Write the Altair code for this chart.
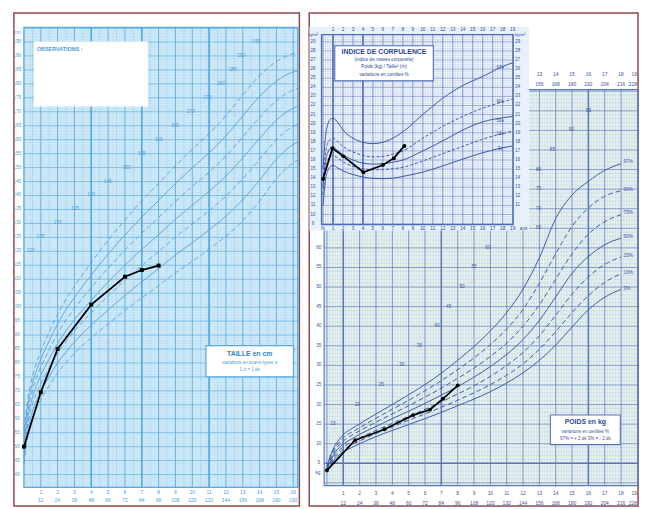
import altair as alt
import numpy as np
import pandas as pd

FONT = "Liberation Sans"

# ======================= DATA =======================
# ---- Height chart (TAILLE en cm) ----
H_AGES = [0, 0.25, 0.5, 0.75, 1, 1.5, 2, 2.5, 3, 4, 5, 6, 7, 8, 9, 10, 11, 12, 13, 14, 15, 16, 16.3]
H_M3 = [44, 54.1, 60, 63.9, 66.8, 71.9, 76.5, 80.1, 83.5, 89, 94, 98.8, 103.3, 107.7, 112.3, 116.4, 120.8, 125.4, 131, 138, 146, 151.8, 152.8]
H_M2 = [46, 56.4, 62.5, 66.6, 69.7, 75.1, 80, 83.9, 87.5, 93.5, 99, 104.2, 109.1, 113.8, 118.7, 123.1, 127.7, 132.6, 138.5, 145.5, 153, 158.3, 159.2]
H_M1 = [48, 58.7, 65, 69.3, 72.6, 78.3, 83.5, 87.7, 91.5, 98, 104, 109.6, 114.9, 119.9, 125.1, 129.8, 134.6, 139.8, 146, 153, 160, 164.8, 165.6]
H_M0 = [50, 61, 67.5, 72, 75.5, 81.5, 87, 91.5, 95.5, 102.5, 109, 115, 120.7, 126, 131.5, 136.5, 141.5, 147, 153.5, 160.5, 167, 171.3, 172]
H_P1 = [52, 63.3, 70, 74.7, 78.4, 84.7, 90.5, 95.3, 99.5, 107, 114, 120.4, 126.5, 132.1, 137.9, 143.2, 148.4, 154.2, 161, 168, 174, 177.8, 178.4]
H_P2 = [54, 65.6, 72.5, 77.4, 81.3, 87.9, 94, 99.1, 103.5, 111.5, 119, 125.8, 132.3, 138.2, 144.3, 149.9, 155.3, 161.4, 168.5, 175.5, 181, 184.3, 184.8]
H_P3 = [56, 67.9, 75, 80.1, 84.2, 91.1, 97.5, 102.9, 107.5, 116, 124, 131.2, 138.1, 144.3, 150.7, 156.6, 162.2, 168.6, 176, 183, 188, 190.8, 191.2]
CHILD_H_AGE = [0, 1, 2, 4, 6, 7, 8]
CHILD_H_CM = [50, 69.5, 85, 100.9, 110.9, 113.3, 114.9]
H_YLAB = list(range(40, 200, 5))
H_XYEARS = list(range(1, 17))
H_XMONTHS = [12 * k for k in H_XYEARS]
H_DIAG_AGE = [0.4, 1.0, 2.0, 3.05, 4.0, 4.98, 6.1, 7.0, 8.0, 8.95, 9.9, 10.9, 11.7, 12.4, 12.9, 13.8]
H_DIAG_VAL = [120, 125, 130, 135, 140, 145, 150, 155, 160, 165, 170, 175, 180, 185, 190, 195]

# ---- Weight chart (POIDS en kg) ----
W_AGES = [0, 0.25, 0.5, 0.75, 1, 1.5, 2, 3, 4, 5, 6, 7, 8, 9, 10, 11, 12, 13, 14, 15, 16, 17, 18]
W_P97 = [4.3, 7.4, 9.6, 11.1, 12.3, 13.8, 15.1, 17.6, 20.0, 22.5, 25.1, 28.0, 31.3, 34.8, 38.8, 43.5, 49.5, 57.5, 67.5, 73.5, 77.0, 79.8, 81.5]
W_P90 = [4.0, 6.9, 9.0, 10.4, 11.5, 12.9, 14.1, 16.5, 18.8, 21.1, 23.5, 26.1, 28.9, 31.9, 35.3, 39.3, 44.3, 51.0, 58.5, 65.5, 70.2, 73.2, 74.6]
W_P75 = [3.7, 6.4, 8.4, 9.7, 10.7, 12.1, 13.3, 15.5, 17.6, 19.7, 21.9, 24.2, 26.7, 29.3, 32.3, 35.7, 40.0, 45.5, 52.0, 58.5, 63.5, 66.7, 68.5]
W_P50 = [3.4, 5.9, 7.8, 9.0, 9.9, 11.2, 12.4, 14.4, 16.4, 18.3, 20.3, 22.4, 24.6, 27.0, 29.7, 32.8, 36.6, 41.5, 47.5, 53.5, 57.8, 60.8, 62.5]
W_P25 = [3.1, 5.4, 7.2, 8.3, 9.2, 10.4, 11.5, 13.4, 15.2, 17.0, 18.8, 20.7, 22.7, 24.8, 27.2, 30.0, 33.3, 37.6, 42.8, 48.2, 52.6, 55.8, 57.7]
W_P10 = [2.9, 5.0, 6.7, 7.7, 8.5, 9.7, 10.7, 12.6, 14.3, 16.0, 17.6, 19.3, 21.1, 23.0, 25.1, 27.5, 30.4, 34.1, 38.6, 43.5, 47.8, 51.2, 53.4]
W_P03 = [2.6, 4.6, 6.2, 7.2, 7.9, 9.0, 10.0, 11.8, 13.4, 14.9, 16.4, 18.0, 19.7, 21.4, 23.3, 25.5, 28.1, 31.3, 35.2, 39.8, 44.2, 47.4, 49.4]
W_PLAB = ["97%", "90%", "75%", "50%", "25%", "10%", "3%"]
W_PLAB_VAL = [81.8, 74.7, 68.8, 62.8, 57.9, 53.7, 49.6]
CHILD_W_AGE = [0, 1.72, 3.53, 5.28, 6.3, 7.11, 8.01]
CHILD_W_KG = [3.2, 10.9, 13.7, 17.3, 18.7, 21.5, 24.9]
W_YLAB = list(range(5, 65, 5))
W_XYEARS = list(range(1, 19))
W_XMONTHS = [12 * k for k in W_XYEARS]
W_TOPYEARS = list(range(13, 19))
W_TOPMONTHS = [12 * k for k in W_TOPYEARS]
W_EDGE_YEAR = ["19"]
W_EDGE_MONTH = ["228"]
W_DIAG_AGE = [0.37, 1.86, 3.32, 4.58, 5.66, 6.73, 7.45, 8.27, 9.0, 9.85, 12.95, 12.95, 12.95, 12.95, 13.8, 14.95, 16.0]
W_DIAG_VAL = [15, 20, 25, 30, 35, 40, 45, 50, 55, 60, 65, 70, 75, 80, 85, 90, 95]

# ---- BMI inset (INDICE DE CORPULENCE) ----
B_AGES = [0, 0.25, 0.5, 0.75, 1, 1.5, 2, 3, 4, 5, 6, 7, 8, 10, 12, 14, 16, 18, 19]
B_P97 = [15.0, 18.6, 20.0, 20.5, 20.6, 20.1, 19.3, 18.4, 17.95, 17.8, 17.95, 18.4, 19.1, 21.0, 22.8, 24.2, 25.2, 26.3, 26.7]
B_P90 = [13.8, 16.8, 17.9, 18.3, 18.4, 18.0, 17.5, 16.9, 16.5, 16.35, 16.4, 16.65, 17.0, 18.4, 19.7, 20.8, 21.7, 22.4, 22.7]
B_P50 = [13.0, 15.8, 16.9, 17.3, 17.4, 17.0, 16.6, 16.0, 15.65, 15.55, 15.6, 15.75, 16.0, 17.0, 18.1, 19.3, 20.2, 20.65, 20.8]
B_P10 = [12.2, 14.9, 16.0, 16.4, 16.5, 16.2, 15.8, 15.3, 15.05, 14.93, 14.95, 15.03, 15.2, 15.9, 16.7, 17.5, 18.3, 18.9, 19.2]
B_P03 = [11.0, 13.8, 14.9, 15.3, 15.4, 15.1, 14.8, 14.4, 14.13, 13.97, 13.95, 14.0, 14.2, 14.67, 15.35, 16.1, 16.8, 17.35, 17.55]
B_PLAB = ["97e", "90e", "50e", "10e", "3e"]
B_PLAB_VAL = [26.1, 22.36, 20.34, 18.86, 17.16]
CHILD_B_AGE = [0, 0.95, 2.05, 4.05, 6.0, 7.1, 8.15]
CHILD_B_VAL = [13.9, 17.3, 16.4, 14.65, 15.45, 16.2, 17.55]
B_YLAB = list(range(9, 30))
B_YLAB_R = list(range(11, 30))
B_XYEARS = list(range(1, 20))

# ======================= STYLE =======================
FRAME = "#8c4a4a"
L_BG, L_MIN, L_MID, L_MAJ, L_CUR, L_TXT = "#d8eefa", "#b2dcf3", "#8fcaee", "#55a9df", "#5a9ed8", "#4a9dd6"
W_BG, W_MIN, W_MAJ, W_CUR, W_TXT = "#e8f3ec", "#b6cbe8", "#5a76bd", "#3d5aa8", "#3b549e"
B_BG, B_MIN, B_MAJ, B_CUR, B_TXT = "#e6f1fb", "#bccbea", "#4f6ab4", "#3a56a6", "#2f4b9c"


def sc(lo, hi):
    return alt.Scale(domain=[lo, hi], nice=False, zero=False)


def vlines(xs, y0, y1, sx, sy, color, w):
    df = pd.DataFrame({"x": [float(v) for v in xs]})
    df["y"] = y0
    df["y2"] = y1
    return alt.Chart(df).mark_rule(color=color, strokeWidth=w).encode(
        x=alt.X("x:Q", scale=sx, axis=None),
        y=alt.Y("y:Q", scale=sy, axis=None), y2="y2:Q")


def hlines(ys, x0, x1, sx, sy, color, w):
    df = pd.DataFrame({"y": [float(v) for v in ys]})
    df["x"] = x0
    df["x2"] = x1
    return alt.Chart(df).mark_rule(color=color, strokeWidth=w).encode(
        x=alt.X("x:Q", scale=sx, axis=None), x2="x2:Q",
        y=alt.Y("y:Q", scale=sy, axis=None))


def box(x0, x1, y0, y1, sx, sy, fill, stroke=None, sw=1.0):
    df = pd.DataFrame({"x": [x0], "x2": [x1], "y": [y0], "y2": [y1]})
    kw = dict(fill=fill)
    if stroke:
        kw.update(stroke=stroke, strokeWidth=sw)
    else:
        kw.update(strokeWidth=0)
    return alt.Chart(df).mark_rect(**kw).encode(
        x=alt.X("x:Q", scale=sx, axis=None), x2="x2:Q",
        y=alt.Y("y:Q", scale=sy, axis=None), y2="y2:Q")


def texts(xs, ys, labels, sx, sy, color, size=5, align="center", weight="normal"):
    n = len(labels)
    xs = xs if isinstance(xs, list) else [xs] * n
    ys = ys if isinstance(ys, list) else [ys] * n
    df = pd.DataFrame({"x": xs, "y": ys, "t": [str(l) for l in labels]})
    return alt.Chart(df).mark_text(font=FONT, fontSize=size, color=color, align=align,
                                   baseline="middle", fontWeight=weight).encode(
        x=alt.X("x:Q", scale=sx, axis=None),
        y=alt.Y("y:Q", scale=sy, axis=None), text="t:N")


def curves(ages, series, sx, sy, color, w, dash=None):
    rows = []
    for name, vals in series.items():
        for a, v in zip(ages, vals):
            rows.append({"age": a, "v": v, "c": name})
    kw = dict(color=color, strokeWidth=w, interpolate="monotone")
    if dash:
        kw["strokeDash"] = dash
    return alt.Chart(pd.DataFrame(rows)).mark_line(**kw).encode(
        x=alt.X("age:Q", scale=sx, axis=None),
        y=alt.Y("v:Q", scale=sy, axis=None), detail="c:N")


def child(ages, vals, sx, sy, shape):
    df = pd.DataFrame({"age": ages, "v": vals})
    base = alt.Chart(df).encode(x=alt.X("age:Q", scale=sx, axis=None),
                                y=alt.Y("v:Q", scale=sy, axis=None))
    return [base.mark_line(color="black", strokeWidth=1.8),
            base.mark_point(shape=shape, filled=True, size=16, color="black", opacity=1)]


# ======================= LEFT PANEL (TAILLE) =======================
LX = sc(-0.596, 16.363)
LY = sc(28.71, 205.43)
GX0, GX1, GY0, GY1 = 0.0, 16.27, 35.4, 200.2

minor_v = [m / 12 for m in range(1, 196) if m % 6 != 0]
mid_v = [k + 0.5 for k in range(0, 16)]
maj_v = list(range(1, 17))
minor_h = [c for c in range(36, 201) if c % 5 != 0]
maj_h = list(range(40, 201, 5))

left_layers = [
    box(GX0, GX1, GY0, GY1, LX, LY, L_BG),
    vlines(minor_v, GY0, GY1, LX, LY, L_MIN, 0.4),
    hlines(minor_h, GX0, GX1, LX, LY, L_MIN, 0.4),
    vlines(mid_v, GY0, GY1, LX, LY, L_MID, 0.6),
    hlines(maj_h, GX0, GX1, LX, LY, L_MAJ, 0.7),
    vlines(maj_v, GY0, GY1, LX, LY, L_MAJ, 0.9),
    vlines([4, 7, 11], GY0, GY1, LX, LY, L_MAJ, 1.6),
    box(GX0, GX1, GY0, GY1, LX, LY, "transparent", L_MAJ, 1.4),
    box(0.59, 7.37, 171.9, 195.2, LX, LY, "white"),
    texts(0.77, 192.5, ["OBSERVATIONS :"], LX, LY, L_TXT, 5.5, "left", "bold"),
    curves(H_AGES, {"m3": H_M3, "m1": H_M1, "p1": H_P1, "p3": H_P3}, LX, LY, L_CUR, 0.9, [5, 3]),
    curves(H_AGES, {"m2": H_M2, "m0": H_M0, "p2": H_P2}, LX, LY, L_CUR, 0.9),
    texts(-0.40, H_YLAB, H_YLAB, LX, LY, L_TXT, 4.8),
    texts(-0.40, 198.4, ["cm"], LX, LY, L_TXT, 4.8),
    texts(H_XYEARS, 33.65, H_XYEARS, LX, LY, L_TXT, 5),
    texts(H_XYEARS, 30.83, H_XMONTHS, LX, LY, L_TXT, 5),
    texts(H_DIAG_AGE, H_DIAG_VAL, H_DIAG_VAL, LX, LY, L_TXT, 4.8),
    box(10.81, 16.01, 75.03, 86.21, LX, LY, "white", L_MAJ, 1.2),
    texts(13.41, 83.03, ["TAILLE en cm"], LX, LY, "#2f86c8", 7, "center", "bold"),
    texts(13.41, 79.96, ["variations en écarts-types σ"], LX, LY, L_TXT, 4.6),
    texts(13.41, 77.39, ["1 σ = 1 ds"], LX, LY, L_TXT, 4.6),
] + child(CHILD_H_AGE, CHILD_H_CM, LX, LY, "square")

left = alt.layer(*left_layers).properties(width=290, height=501)

# ======================= RIGHT PANEL: WEIGHT =======================
WX = sc(-1.084, 19.036)
WY = sc(-5.93, 120.0)
WX0, WX1, WY0, WY1 = -0.17, 19.036, -0.7, 100.4

w_minor_v = [k / 6 for k in range(1, 115) if k % 6 != 0]
w_maj_v = list(range(0, 20))
w_minor_h = [c for c in range(0, 101) if c % 5 != 0]
w_maj_h = list(range(0, 101, 5))

weight_layers = [
    box(WX0, WX1, WY0, WY1, WX, WY, W_BG),
    vlines(w_minor_v, WY0, WY1, WX, WY, W_MIN, 0.4),
    hlines(w_minor_h, WX0, WX1, WX, WY, W_MIN, 0.4),
    vlines(w_maj_v, WY0, WY1, WX, WY, W_MAJ, 0.8),
    hlines(w_maj_h, WX0, WX1, WX, WY, W_MAJ, 0.7),
    vlines([1, 7, 16], WY0, WY1, WX, WY, W_MAJ, 1.5),
    hlines([5], WX0, WX1, WX, WY, W_MAJ, 1.4),
    box(WX0, WX1, WY0, WY1, WX, WY, "transparent", W_MAJ, 1.2),
    curves(W_AGES, {"p97": W_P97, "p50": W_P50, "p03": W_P03}, WX, WY, W_CUR, 1.0),
    curves(W_AGES, {"p90": W_P90, "p75": W_P75, "p25": W_P25, "p10": W_P10}, WX, WY, W_CUR, 1.0, [5, 3]),
    texts(18.15, W_PLAB_VAL, W_PLAB, WX, WY, W_TXT, 4.8, "left"),
    texts(-0.5, W_YLAB, W_YLAB, WX, WY, W_TXT, 4.8),
    texts(-0.55, 2.4, ["kg"], WX, WY, W_TXT, 4.8),
    texts(W_XYEARS, -2.61, W_XYEARS, WX, WY, W_TXT, 5),
    texts(W_XYEARS, -5.13, W_XMONTHS, WX, WY, W_TXT, 5),
    texts(18.97, -2.61, W_EDGE_YEAR, WX, WY, W_TXT, 5, "right"),
    texts(18.97, -5.13, W_EDGE_MONTH, WX, WY, W_TXT, 5, "right"),
    texts(W_TOPYEARS, 104.42, W_TOPYEARS, WX, WY, W_TXT, 5),
    texts(W_TOPYEARS, 101.9, W_TOPMONTHS, WX, WY, W_TXT, 5),
    texts(18.97, 104.42, W_EDGE_YEAR, WX, WY, W_TXT, 5, "right"),
    texts(18.97, 101.9, W_EDGE_MONTH, WX, WY, W_TXT, 5, "right"),
    texts(W_DIAG_AGE, W_DIAG_VAL, W_DIAG_VAL, WX, WY, W_TXT, 4.8),
    box(13.67, 17.95, 9.77, 17.31, WX, WY, "white", W_MAJ, 1.1),
    texts(15.81, 15.48, ["POIDS en kg"], WX, WY, "#2f4b9c", 7, "center", "bold"),
    texts(15.81, 13.04, ["variations en centiles %"], WX, WY, W_TXT, 4.6),
    texts(15.81, 11.28, ["97% = + 2 ds    3% = - 2 ds"], WX, WY, W_TXT, 4.6),
] + child(CHILD_W_AGE, CHILD_W_KG, WX, WY, "circle")

# ======================= RIGHT PANEL: BMI INSET =======================
BX = sc(-1.381, 31.56)
BY = sc(-22.09, 32.19)
BX0, BX1, BY0, BY1 = -0.15, 19.05, 8.9, 29.8

b_minor_v = [k / 4 for k in range(1, 76) if k % 4 != 0]
b_maj_v = list(range(0, 20))
b_minor_h = [9 + k / 4 for k in range(1, 84) if k % 4 != 0]
b_maj_h = list(range(9, 30))

bmi_layers = [
    box(-1.36, 20.64, 8.24, 30.67, BX, BY, B_BG),
    box(BX0, BX1, BY0, BY1, BX, BY, "#f1f7fd"),
    vlines(b_minor_v, BY0, BY1, BX, BY, B_MIN, 0.4),
    hlines(b_minor_h, BX0, BX1, BX, BY, B_MIN, 0.4),
    vlines(b_maj_v, BY0, BY1, BX, BY, B_MAJ, 0.7),
    hlines(b_maj_h, BX0, BX1, BX, BY, B_MAJ, 0.5),
    vlines([1, 4], BY0, BY1, BX, BY, B_MAJ, 1.5),
    box(BX0, BX1, BY0, BY1, BX, BY, "transparent", B_MAJ, 1.3),
    curves(B_AGES, {"p97": B_P97, "p50": B_P50, "p03": B_P03}, BX, BY, B_CUR, 1.0),
    curves(B_AGES, {"p90": B_P90, "p10": B_P10}, BX, BY, B_CUR, 1.0, [3, 2]),
    texts(17.75, B_PLAB_VAL, B_PLAB, BX, BY, B_TXT, 4.5),
    texts(-1.0, B_YLAB, B_YLAB, BX, BY, B_TXT, 4.5),
    texts(19.5, B_YLAB_R, B_YLAB_R, BX, BY, B_TXT, 4.5),
    texts(-1.0, 29.75, ["kg/m²"], BX, BY, B_TXT, 4.2),
    texts(19.75, 29.75, ["kg/m²"], BX, BY, B_TXT, 4.2),
    texts(B_XYEARS, 30.34, B_XYEARS, BX, BY, B_TXT, 4.8),
    texts([0] + B_XYEARS, 8.46, ["N"] + [str(v) for v in B_XYEARS], BX, BY, B_TXT, 4.8),
    texts(20.1, 8.46, ["ans"], BX, BY, B_TXT, 4.8),
    box(1.18, 11.05, 24.71, 28.58, BX, BY, "white", B_MAJ, 1.1),
    texts(6.11, 27.93, ["INDICE DE CORPULENCE"], BX, BY, "#2a4798", 7, "center", "bold"),
    texts(6.11, 27.02, ["(indice de masse corporelle)"], BX, BY, B_TXT, 4.8),
    texts(6.11, 26.23, ["Poids (kg) / Taille² (m)"], BX, BY, B_TXT, 4.8),
    texts(6.11, 25.39, ["variations en centiles %"], BX, BY, B_TXT, 4.8),
] + child(CHILD_B_AGE, CHILD_B_VAL, BX, BY, "circle")

weight_group = alt.layer(*weight_layers)
bmi_group = alt.layer(*bmi_layers)
right = alt.layer(weight_group, bmi_group).resolve_scale(
    x="independent", y="independent").properties(width=334, height=501)

chart = alt.hconcat(left, right, spacing=5).properties(
    padding={"left": 4, "top": 0, "right": 0, "bottom": 0}
).configure_view(stroke=FRAME, strokeWidth=1.5)

chart.save("out.html", embed_options={"renderer": "svg", "actions": False})
